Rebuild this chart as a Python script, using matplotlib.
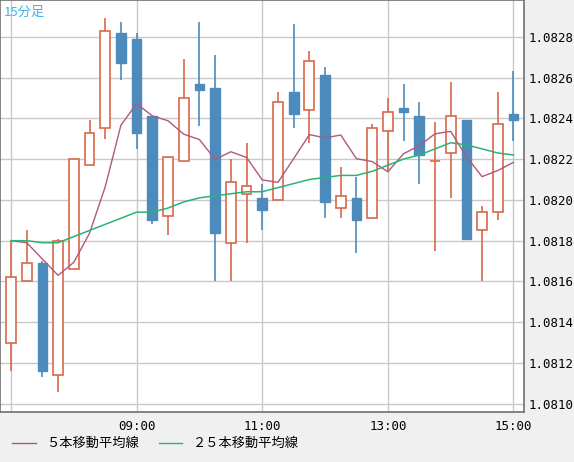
import matplotlib
matplotlib.use("Agg")
import matplotlib.pyplot as plt
import numpy as np
import pandas as pd
from matplotlib.lines import Line2D

plt.rcParams['font.family'] = ['Noto Sans CJK JP', 'DejaVu Sans']

opens  = [1.0813,1.0816,1.08169,1.08114,1.08166,1.08217,1.08235,1.08282,1.08279,1.08241,1.08192,1.08219,1.08257,1.08255,1.08179,1.08203,1.08201,1.0820,1.08253,1.08244,1.08261,1.08196,1.08201,1.08191,1.08234,1.08245,1.08241,1.08219,1.08223,1.08239,1.08185,1.08194,1.08242]
closes = [1.08162,1.08169,1.08116,1.0818,1.0822,1.08233,1.08283,1.08267,1.08233,1.0819,1.08221,1.0825,1.08254,1.08184,1.08209,1.08207,1.08195,1.08248,1.08242,1.08268,1.08199,1.08202,1.0819,1.08235,1.08243,1.08243,1.08222,1.08219,1.08241,1.08181,1.08194,1.08237,1.08239]
highs  = [1.0818,1.08185,1.0817,1.08181,1.0822,1.08239,1.08289,1.08287,1.08282,1.08241,1.08221,1.08269,1.08287,1.08271,1.0822,1.08228,1.08208,1.08253,1.08286,1.08273,1.08265,1.08216,1.08211,1.08237,1.0825,1.08257,1.08248,1.08238,1.08258,1.08239,1.08197,1.08253,1.08263]
lows   = [1.08116,1.0816,1.08113,1.08106,1.08166,1.08217,1.0823,1.08259,1.08225,1.08188,1.08183,1.08219,1.08236,1.0816,1.0816,1.08179,1.08185,1.0820,1.08235,1.08228,1.08191,1.08191,1.08174,1.08191,1.08214,1.08229,1.08208,1.08175,1.08201,1.08181,1.0816,1.0819,1.08229]
bearish = [False,False,True,False,False,False,False,True,True,True,False,False,True,True,False,False,True,False,True,False,True,False,True,False,False,True,True,False,False,True,False,False,True]
ma5_head = [1.0818,1.08179,1.08171,1.08163]
ma25 = [1.0818,1.0818,1.08179,1.08179,1.08182,1.08185,1.08188,1.08191,1.08194,1.08194,1.08196,1.08199,1.08201,1.08202,1.08203,1.08204,1.08204,1.08206,1.08208,1.0821,1.08211,1.08212,1.08212,1.08214,1.08217,1.0822,1.08222,1.08225,1.08228,1.08227,1.08225,1.08223,1.08222]
tick_labels = ["", "09:00", "11:00", "13:00", "15:00"]
tick_idx = [0, 8, 16, 24, 32]
yticks = [1.0810,1.0812,1.0814,1.0816,1.0818,1.0820,1.0822,1.0824,1.0826,1.0828]

ma5 = pd.Series(closes).rolling(5).mean().to_numpy()
ma5[:4] = ma5_head

RED = '#d9674b'; BLUE = '#4d8bbd'; PURPLE = '#b0587e'; GREEN = '#2bb373'

fig = plt.figure(figsize=(5.74, 4.62), dpi=100, facecolor='#f0f0f0')
ax = fig.add_axes([0, 1-412/462, 524/574, 412/462])
ax.set_facecolor('white')
n = len(opens)
x = np.arange(n)
w = 0.62
for i in x:
    col = BLUE if bearish[i] else RED
    ax.vlines(i, lows[i], highs[i], color=col, lw=1.2, zorder=3)
    lo, hi = min(opens[i], closes[i]), max(opens[i], closes[i])
    h = max(hi-lo, 0.000003)
    if bearish[i]:
        ax.bar(i, h, w, lo, color=BLUE, edgecolor=BLUE, lw=1, zorder=4)
    else:
        ax.bar(i, h, w, lo, color='white', edgecolor=RED, lw=1.2, zorder=4)
ax.plot(x, ma5, color=PURPLE, lw=1, zorder=5)
ax.plot(x, ma25, color=GREEN, lw=1.1, zorder=5)

ax.set_xlim(-0.7, 32.67)
ax.set_ylim(1.08096, 1.08298)
ax.set_xticks(tick_idx)
ax.set_xticklabels(tick_labels, family='DejaVu Sans Mono', fontsize=9)
ax.set_yticks(yticks)
ax.set_yticklabels([f"{v:.4f}" for v in yticks], family='DejaVu Sans Mono', fontsize=9)
ax.yaxis.tick_right()
ax.tick_params(length=0, pad=3)
ax.tick_params(axis='x', pad=6)
ax.grid(True, color='#c8c8c8', lw=1)
ax.set_axisbelow(True)
for s in ax.spines.values():
    s.set_color('#707070'); s.set_linewidth(1.2)
ax.text(0.008, 0.985, "15分足", transform=ax.transAxes, color='#3cb4e6', fontsize=9.5, va='top')

handles = [Line2D([], [], color=PURPLE, lw=1), Line2D([], [], color=GREEN, lw=1)]
fig.legend(handles, ["５本移動平均線", "２５本移動平均線"], loc='lower left', bbox_to_anchor=(0.0, 0.0),
           ncol=2, frameon=False, handlelength=1.8, columnspacing=1.5, prop={'family':['Noto Sans CJK JP','DejaVu Sans'],'size':9.5})
fig.savefig("out.png", facecolor=fig.get_facecolor())
